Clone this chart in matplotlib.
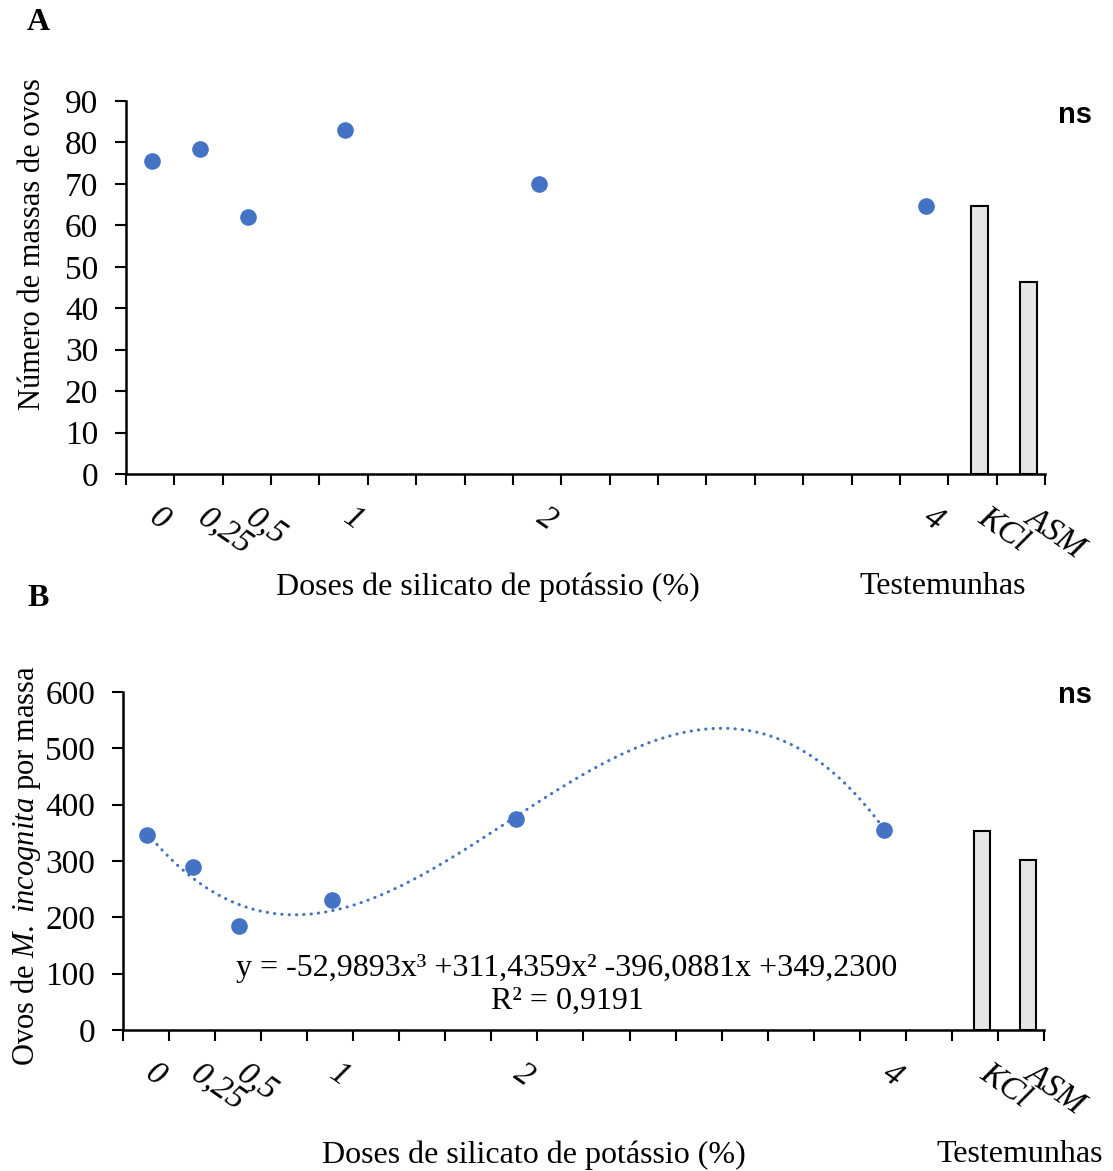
import numpy as np
import matplotlib.pyplot as plt

plt.rcParams['font.family'] = ['Liberation Serif', 'DejaVu Serif']
plt.rcParams['mathtext.fontset'] = 'custom'
plt.rcParams['mathtext.rm'] = 'Liberation Serif'
plt.rcParams['mathtext.it'] = 'Liberation Serif:italic'

# data
doses = [0, 0.25, 0.5, 1, 2, 4]
dose_labels = ['0', '0,25', '0,5', '1', '2', '4']
controls = ['KCl', 'ASM']

massas = [75.6, 78.4, 62.0, 82.9, 70.0, 64.7]
massas_ctrl = [64.6, 46.3]

ovos = [346.6, 290, 184, 231, 374, 355.5]
ovos_ctrl = [352.5, 301]
coef = [-52.9893, 311.4359, -396.0881, 349.2300]
r2 = 0.9191

blue = '#4472C4'
fs = 23

fig = plt.figure(figsize=(11.13, 11.71), dpi=100)
axA = fig.add_axes([0.1132, 0.5952, 0.8257, 0.3185])
axB = fig.add_axes([0.1105, 0.1204, 0.8275, 0.2886])


def style(ax, ncat, ymax, ystep, ctrl_pos, ctrl_vals, lbl_offset):
    pos = [4 * d + lbl_offset for d in doses]
    ax.bar(ctrl_pos, ctrl_vals, width=0.35, color='#e6e6e6',
           edgecolor='black', linewidth=1.5, zorder=2)
    ax.set_xlim(0, ncat)
    ax.set_ylim(0, ymax)
    ax.set_xticks(range(ncat + 1))
    ax.set_xticklabels([])
    ax.set_yticks(np.arange(0, ymax + 1, ystep))
    ax.tick_params(axis='both', direction='out', length=8, width=1.5,
                   labelsize=24, pad=12)
    for s in ['top', 'right']:
        ax.spines[s].set_visible(False)
    for s in ['left', 'bottom']:
        ax.spines[s].set_linewidth(1.8)
    labels = dose_labels + controls
    xs = pos + list(ctrl_pos)
    for x, lb in zip(xs, labels):
        ax.annotate(lb, xy=(x, 0), xycoords=('data', 'axes fraction'),
                    xytext=(7, -20), textcoords='offset points',
                    rotation=-35, rotation_mode='anchor', ha='left',
                    va='top', style='italic', fontsize=24)
    return pos


# panel A
posA = style(axA, 19, 90, 10, [17.65, 18.65], massas_ctrl, 0.53)
axA.scatter(posA, massas, s=120, color=blue, zorder=3)

# panel B
posB = style(axB, 20, 600, 100, [18.65, 19.65], ovos_ctrl, 0.53)
xx = np.linspace(0, 4, 300)
axB.plot(4 * xx + 0.53, np.polyval(coef, xx), color=blue, lw=2.2,
         linestyle=(0, (0.1, 2.3)), dash_capstyle='round', zorder=2)
axB.scatter(posB, ovos, s=120, color=blue, zorder=3)

eq = 'y = {:.4f}x³ +{:.4f}x² {:.4f}x +{:.4f}'.format(*coef).replace('.', ',')
axB.text(0.482, 0.133, eq + '\nR² = ' + f'{r2:.4f}'.replace('.', ','),
         transform=axB.transAxes, ha='center', va='center', fontsize=fs,
         linespacing=1.15)

# labels
fig.text(0.029, 1 - 244 / 1171, 'Número de massas de ovos', rotation=90,
         ha='center', va='center', fontsize=22)
fig.text(0.023, 1 - 866 / 1171, r'Ovos de $\mathit{M.\ incognita}$ por massa',
         rotation=90, ha='center', va='center', fontsize=22)

fig.text(488 / 1113, 1 - 587 / 1171, 'Doses de silicato de potássio (%)',
         ha='center', va='center', fontsize=fs)
fig.text(943 / 1113, 1 - 587 / 1171, 'Testemunhas', ha='center',
         va='center', fontsize=fs)
fig.text(534 / 1113, 1 - 1155 / 1171, 'Doses de silicato de potássio (%)',
         ha='center', va='center', fontsize=fs)
fig.text(1020 / 1113, 1 - 1155 / 1171, 'Testemunhas', ha='center',
         va='center', fontsize=fs)

fig.text(38 / 1113, 1 - 22 / 1171, 'A', ha='center', va='center',
         fontsize=fs, fontweight='bold')
fig.text(38 / 1113, 1 - 598 / 1171, 'B', ha='center', va='center',
         fontsize=fs, fontweight='bold')

for y in [115, 695]:
    fig.text(1075 / 1113, 1 - y / 1171, 'ns', ha='center', va='center',
             fontsize=21, fontweight='bold', family='Liberation Sans')

fig.savefig('out.png', dpi=100)
